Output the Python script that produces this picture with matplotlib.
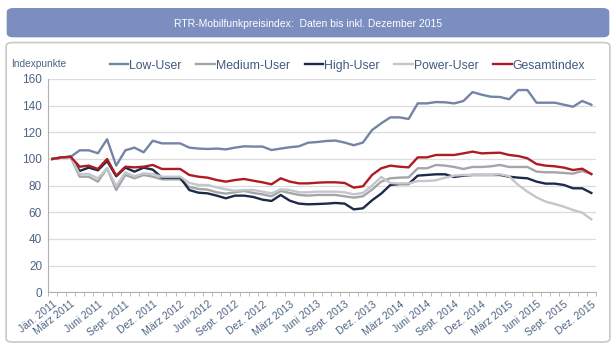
import matplotlib
matplotlib.use('Agg')
import matplotlib.pyplot as plt
from matplotlib.patches import FancyBboxPatch

plt.rcParams['font.family'] = ['Liberation Sans', 'DejaVu Sans']

# monthly index values, Jan 2011 .. Dec 2015
month_names = ['Jän.', 'Feb.', 'März', 'Apr.', 'Mai', 'Juni', 'Juli', 'Aug.', 'Sept.', 'Okt.', 'Nov.', 'Dez.']
years = [2011, 2012, 2013, 2014, 2015]
months = ['%s %d' % (m, y) for y in years for m in month_names]

low_user = [100, 101, 101.5, 106.5, 106.5, 104.3, 114.8, 95, 106.5, 108.5, 105, 113.7,
            111.7, 111.7, 111.7, 108.5, 107.8, 107.5, 107.8, 107.2, 108.5, 109.5, 109.3, 109.3,
            106.7, 107.8, 108.8, 109.5, 112.2, 112.7, 113.5, 113.8, 112.3, 110.3, 112.3, 121.7,
            126.7, 131.2, 131.2, 130, 141.7, 141.7, 142.7, 142.5, 141.7, 143.5, 150.2, 148.2,
            146.7, 146.5, 144.8, 151.7, 151.7, 142.2, 142.2, 142.2, 140.7, 139.2, 143.5, 140.7]
medium_user = [100, 101, 101.5, 86.7, 86.7, 83, 93, 76.7, 88, 85.5, 88, 86.7,
               84.7, 84.7, 84.7, 79, 77.5, 77, 75, 74, 75, 76, 74.5, 73.5,
               72, 76, 74.5, 73, 72.5, 73, 73, 73, 72, 71, 72, 77,
               83, 85.5, 86, 86.2, 93, 93, 95.5, 95, 94, 92.5, 94, 94,
               94.5, 95.5, 94, 94, 94, 90.5, 90, 90, 89.5, 89, 91, 88.7]
high_user = [100, 101, 101.7, 91, 93.5, 91.5, 98.5, 87, 93.5, 90.5, 93.5, 92,
             86, 86, 86, 76.7, 74.7, 74.2, 72.5, 70.5, 72.5, 72.5, 71.5, 69.5,
             68.5, 73, 68.7, 66.5, 66, 66.2, 66.5, 67, 66.5, 62.2, 63, 69,
             74, 80.5, 81.2, 81.2, 87.5, 88, 88.5, 88.5, 86.5, 87.5, 88, 88,
             88, 88, 86.7, 86, 85.5, 83, 81.5, 81.5, 80.5, 78, 78, 74.5]
power_user = [100, 101, 101.5, 88.7, 88.7, 85.5, 93, 79.7, 90, 87, 89.2, 88.7,
              86.7, 86.7, 86.7, 82, 80.5, 80.5, 78.7, 77.2, 76.2, 76.7, 76.7, 75.5,
              74.2, 77.2, 76.7, 75, 75, 75.5, 75.5, 75.5, 75, 73.5, 74.5, 80,
              86.5, 82, 81.5, 81.5, 83.5, 83.5, 84, 86, 87.5, 88, 88, 88,
              88, 88.5, 87, 80.5, 75.5, 71.2, 68, 66.2, 64.2, 61.7, 59.7, 54.7]
gesamt = [100, 101.2, 101.7, 94.2, 95, 92.5, 100, 87.5, 94.2, 93.7, 94.2, 95.5,
          92.5, 92.5, 92.5, 88, 86.7, 86, 84.2, 83, 84.2, 85, 83.7, 82.5,
          81, 85.5, 83, 81.7, 81.7, 82.2, 82.5, 82.5, 82, 78.5, 79.5, 88,
          93, 95, 94.2, 93.7, 101.2, 101.2, 103, 103, 103, 104.2, 105.5, 104.2,
          104.5, 104.7, 103, 102.2, 100.5, 96.2, 95, 94.5, 93.5, 91.7, 92.7, 88.7]

series = [('Low-User', low_user, '#7384a6'),
          ('Medium-User', medium_user, '#a4a5a8'),
          ('High-User', high_user, '#1c2b47'),
          ('Power-User', power_user, '#c3c6cb'),
          ('Gesamtindex', gesamt, '#ae1c22')]

shown = ['Jän. 2011'] + [m for m in months if m.split()[0] in ('März', 'Juni', 'Sept.', 'Dez.')]

fig = plt.figure(figsize=(6.16, 3.49), dpi=100)

# title bar and frame, behind the axes
fig.patches.append(FancyBboxPatch((0.012, 0.895), 0.976, 0.08, boxstyle='round,pad=0,rounding_size=0.01',
                                  transform=fig.transFigure, fc='#7b8ebf', ec='#7b8ebf', zorder=-2))
fig.patches.append(FancyBboxPatch((0.01, 0.02), 0.98, 0.858, boxstyle='round,pad=0,rounding_size=0.01',
                                  transform=fig.transFigure, fc='white', ec='#c8c8c8', lw=1.2, zorder=-2))
fig.text(0.5, 0.932, 'RTR-Mobilfunkpreisindex:  Daten bis inkl. Dezember 2015',
         color='white', fontsize=7.5, ha='center', va='center')

ax = fig.add_axes([0.0774, 0.1625, 0.89, 0.6112])
ax.patch.set_alpha(0)
x = list(range(len(months)))
for name, vals, col in series:
    ax.plot(x, vals, color=col, lw=1.7, label=name)

ax.set_xlim(-0.5, len(months) - 0.5)
ax.set_ylim(0, 160)
ax.set_yticks(range(0, 161, 20))
ax.yaxis.grid(True, color='#dcdcdc', lw=0.9)
ax.set_axisbelow(True)
for s in ['top', 'right']:
    ax.spines[s].set_visible(False)
ax.spines['left'].set_color('#b0b0b0')
ax.spines['bottom'].set_color('#b0b0b0')
ax.tick_params(axis='y', length=0, labelsize=8.5, labelcolor='#4d6482', pad=4)

ax.set_xticks([months.index(m) for m in shown])
ax.set_xticklabels(shown, rotation=38, ha='right', rotation_mode='anchor')
ax.set_xticks([i - 0.5 for i in range(len(months) + 1)], minor=True)
ax.tick_params(axis='x', which='major', length=0, labelsize=7.5, labelcolor='#4d6482', pad=5)
ax.tick_params(axis='x', which='minor', length=3, color='#b0b0b0', direction='out')

fig.text(0.018, 0.818, 'Indexpunkte', fontsize=7.3, color='#4d6482', va='center')
ax.legend(loc='lower left', bbox_to_anchor=(0.1, 1.0), ncol=5, frameon=False, fontsize=8.8,
          handlelength=1.5, handletextpad=0.1, columnspacing=1.2, borderaxespad=0.2,
          labelcolor='#3f5a7c')

plt.savefig('out.png', dpi=100)
